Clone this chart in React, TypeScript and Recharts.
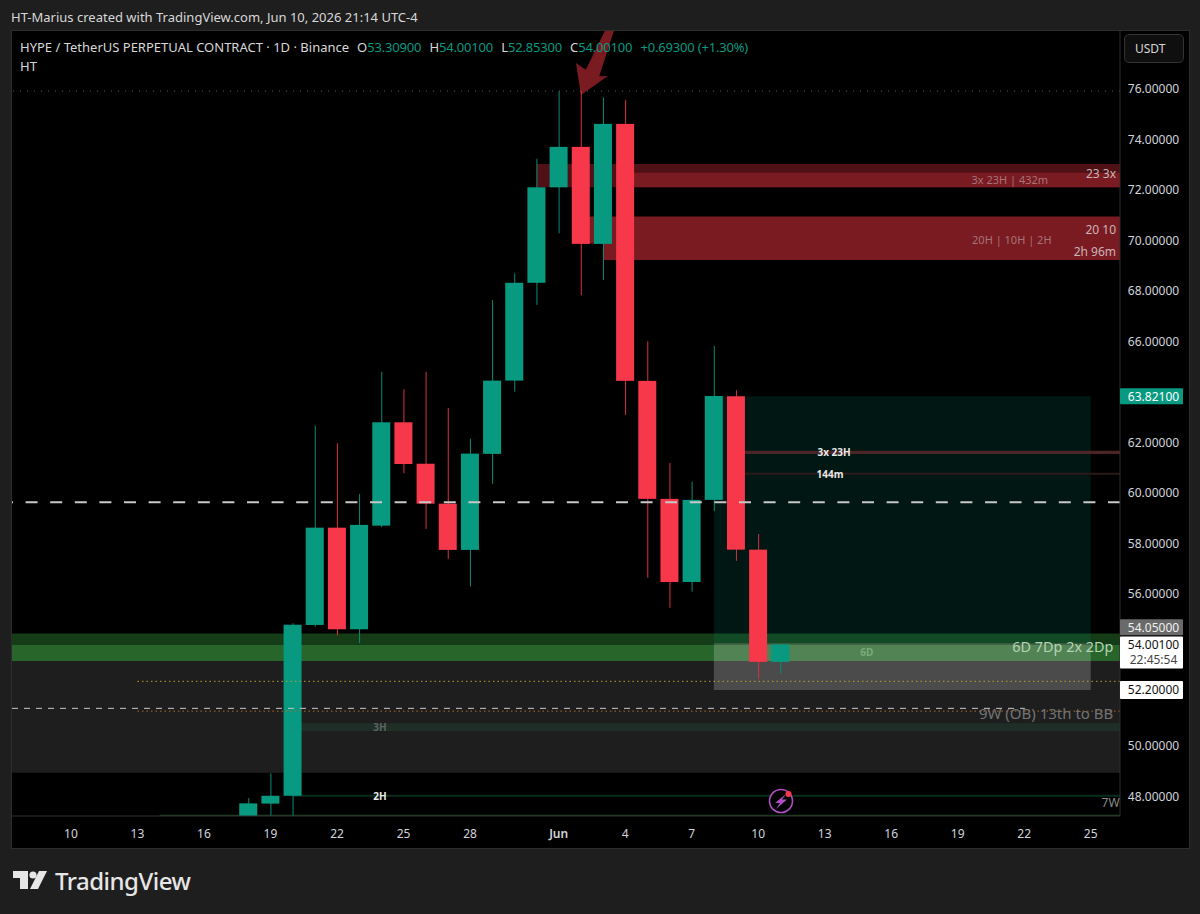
import {
    Bar,
    ComposedChart,
    ReferenceArea,
    ReferenceDot,
    ReferenceLine,
    XAxis,
    YAxis,
} from "recharts"

// day number counted from May 10
const days = [8, 9, 10, 11, 12, 13, 14, 15, 16, 17, 18, 19, 20, 21, 22, 23, 24, 25, 26, 27, 28, 29, 30, 31, 32]
const opens = [47.0, 47.7, 48.01, 54.77, 58.62, 54.6, 58.7, 62.79, 61.15, 59.57, 57.74, 61.54, 64.44, 68.31, 72.09, 73.69, 69.85, 74.6, 64.43, 59.76, 56.47, 59.72, 63.82, 57.75, 53.309]
const highs = [47.92, 48.9, 54.84, 62.66, 61.96, 59.95, 64.79, 64.1, 64.79, 63.36, 62.14, 67.63, 68.69, 73.22, 75.9, 75.9, 75.65, 75.55, 66.0, 61.18, 60.44, 65.81, 64.06, 58.37, 54.001]
const lows = [46.9, 47.0, 47.0, 54.7, 54.35, 54.05, 58.64, 60.77, 58.57, 57.39, 56.29, 60.36, 64.0, 67.44, 70.27, 67.82, 68.42, 63.08, 56.64, 55.45, 56.09, 59.28, 57.31, 52.62, 52.853]
const closes = [47.71, 48.01, 54.78, 58.62, 54.6, 58.73, 62.79, 61.14, 59.57, 57.74, 61.55, 64.44, 68.31, 72.09, 73.69, 69.85, 74.6, 64.43, 59.76, 56.47, 59.72, 63.83, 57.75, 53.31, 54.001]

const timeTicks = [0, 3, 6, 9, 12, 15, 18, 22, 25, 28, 31, 34, 37, 40, 43, 46]
const timeLabels = ["10", "13", "16", "19", "22", "25", "28", "Jun", "4", "7", "10", "13", "16", "19", "22", "25"]
const priceTicks = [76, 74, 72, 70, 68, 66, 63.821, 62, 60, 58, 56, 54.05, 54.001, 52.2, 50, 48]

const GREEN = "#089981"
const RED = "#f7374a"
const BAND_RED = "#7a1b22"
const DAY_MIN = -2.66
const DAY_MAX = 47.32
const PRICE_MIN = 47.21
const PRICE_MAX = 78.275

const candles = days.map((day, i) => ({
    day,
    up: closes[i] >= opens[i],
    wick: [lows[i], highs[i]],
    body: [Math.min(opens[i], closes[i]), Math.max(opens[i], closes[i])],
}))

const font = "'Noto Sans', sans-serif"

function CandleBody(props: any) {
    const { x, y, width, height, payload } = props
    return <rect x={x} y={y} width={width} height={height} fill={payload.up ? GREEN : RED} />
}

function CandleWick(props: any) {
    const { x, y, width, height, payload } = props
    return <rect x={x} y={y} width={width} height={height} fill={payload.up ? "#0b8a75" : "#d6303f"} />
}

function PriceTick(props: any) {
    const { x, y, payload } = props
    const value = payload.value
    const label = value.toFixed(5)
    const left = x - 8
    const textX = left + 33.5
    const text = (dy: number, fill: string, str = label) => (
        <text x={textX} y={y + dy} fill={fill} fontSize={12} fontFamily={font} textAnchor="middle" dominantBaseline="central">
            {str}
        </text>
    )
    if (value === 63.821) {
        return (
            <g>
                <rect x={left} y={y - 8} width={63} height={16} rx={1} fill={GREEN} />
                {text(0, "#fff")}
            </g>
        )
    }
    if (value === 54.05) {
        return (
            <g>
                <rect x={left} y={y - 24} width={63} height={16} rx={1} fill="#6a6a6a" />
                {text(-16, "#f0f0f0")}
            </g>
        )
    }
    if (value === 54.001) {
        return (
            <g>
                <rect x={left} y={y - 8} width={63} height={32} rx={1} fill="#fff" />
                {text(0.5, "#111")}
                {text(15.5, "#444", "22:45:54")}
            </g>
        )
    }
    if (value === 52.2) {
        return (
            <g>
                <rect x={left} y={y - 9} width={63} height={18} rx={1} fill="#fff" />
                {text(0, "#111")}
            </g>
        )
    }
    return text(0, "#d1d4dc")
}

function TimeTick(props: any) {
    const { x, y, payload } = props
    const label = timeLabels[timeTicks.indexOf(payload.value)]
    return (
        <text x={x} y={y + 9} fill="#d1d4dc" fontSize={12} fontFamily={font} textAnchor="middle" dominantBaseline="central" fontWeight={label === "Jun" ? 600 : 400}>
            {label}
        </text>
    )
}

function ArrowShape(props: any) {
    const { x, y, width: w, height: h } = props
    const corners = [
        [0.13, 1],
        [0, 0.5],
        [0.26, 0.605],
        [0.76, 0],
        [1, 0],
        [0.613, 0.708],
        [0.84, 0.703],
    ]
    return <polygon points={corners.map(([a, b]) => `${x + a * w},${y + b * h}`).join(" ")} fill={BAND_RED} />
}

// text pinned to a day/price through the chart's scales
function note(day: number, price: number, value: string, fill: string, size: number, anchor = "middle", weight = 400) {
    return (
        <ReferenceDot
            key={value}
            x={day}
            y={price}
            r={1}
            ifOverflow="visible"
            shape={(p: any) => (
                <text x={p.cx} y={p.cy} fill={fill} fontSize={size} fontWeight={weight} fontFamily={font} textAnchor={anchor as any} dominantBaseline="central">
                    {value}
                </text>
            )}
        />
    )
}

function band(x1: number, x2: number, y1: number, y2: number, fill: string) {
    return <ReferenceArea key={`${x1}-${y1}-${y2}`} x1={x1} x2={x2} y1={y1} y2={y2} fill={fill} fillOpacity={1} stroke="none" ifOverflow="hidden" />
}

const legendValue = { color: GREEN, letterSpacing: -0.18 }

export default function App() {
    return (
        <div style={{ position: "absolute", left: 0, top: 0, width: 1200, height: 914, background: "#1e1e1e", fontFamily: font, overflow: "hidden" }}>
            <div style={{ position: "absolute", left: 11, top: 30, width: 1177, height: 817, background: "#000", border: "1px solid #2e2e2e" }} />
            <div style={{ position: "absolute", left: 11, top: 8, fontSize: 13, color: "#d8d8d8", lineHeight: "18px", whiteSpace: "nowrap" }}>
                HT-Marius created with TradingView.com, Jun 10, 2026 21:14 UTC-4
            </div>
            <div style={{ position: "absolute", left: 0, top: 0 }}>
                <ComposedChart width={1200} height={914} data={candles} margin={{ top: 31, right: 12, bottom: 67, left: 12 }}>
                    <XAxis
                        dataKey="day"
                        type="number"
                        domain={[DAY_MIN, DAY_MAX]}
                        allowDataOverflow
                        ticks={timeTicks}
                        interval={0}
                        height={31}
                        tickLine={false}
                        axisLine={{ stroke: "#2e2e2e" }}
                        tick={TimeTick}
                    />
                    <XAxis xAxisId="wick" dataKey="day" type="number" domain={[DAY_MIN, DAY_MAX]} allowDataOverflow hide />
                    <YAxis
                        orientation="right"
                        type="number"
                        domain={[PRICE_MIN, PRICE_MAX]}
                        allowDataOverflow
                        ticks={priceTicks}
                        interval={0}
                        width={68}
                        tickLine={false}
                        axisLine={{ stroke: "#2e2e2e" }}
                        tick={PriceTick}
                    />

                    {band(DAY_MIN, DAY_MAX, 48.92, 53.34, "#1e1e1e")}
                    {band(DAY_MIN, DAY_MAX, 53.34, 54.43, "#143d17")}
                    {band(DAY_MIN, DAY_MAX, 53.34, 53.98, "#27652a")}
                    {band(10, DAY_MAX, 50.57, 50.88, "#1f2f28")}
                    {band(10, DAY_MAX, 47.97, 48.05, "#0a2e1c")}
                    {band(4, DAY_MAX, 47.21, 47.26, "#16451f")}

                    {band(21, DAY_MAX, 72.09, 73.01, "#4f1116")}
                    {band(25, DAY_MAX, 72.09, 72.67, BAND_RED)}
                    {band(23, DAY_MAX, 69.87, 70.93, BAND_RED)}
                    {band(24, DAY_MAX, 69.21, 69.9, BAND_RED)}

                    <ReferenceArea x1={29} x2={46} y1={54.05} y2={63.821} fill={GREEN} fillOpacity={0.15} stroke="none" />
                    <ReferenceArea x1={29} x2={46} y1={52.2} y2={54.05} fill="#fff" fillOpacity={0.2} stroke="none" />

                    {band(30, DAY_MAX, 61.54, 61.66, "#4b2426")}
                    {band(30, DAY_MAX, 60.71, 60.79, "#2a1a18")}

                    <ReferenceLine y={75.9} stroke="#5a5a5a" strokeDasharray="1 6" />
                    <ReferenceLine y={59.63} stroke="#c8c8c8" strokeWidth={2} strokeDasharray="12 12.6" />
                    <ReferenceLine
                        segment={[{ x: DAY_MIN, y: 51.47 }, { x: 43.03, y: 51.47 }]}
                        stroke="#c8c8c8"
                        strokeDasharray="6 6"
                    />
                    <ReferenceLine segment={[{ x: 3, y: 52.54 }, { x: DAY_MAX, y: 52.54 }]} stroke="#c0a030" strokeDasharray="1.5 3" />
                    <ReferenceLine segment={[{ x: 3, y: 51.36 }, { x: DAY_MAX, y: 51.36 }]} stroke="#b06a2c" strokeDasharray="1.5 3" />

                    <Bar xAxisId="wick" dataKey="wick" barSize={1} shape={CandleWick} isAnimationActive={false} />
                    <Bar dataKey="body" barSize={18} shape={CandleBody} isAnimationActive={false} />

                    <ReferenceArea x1={22.78} x2={24.49} y1={75.74} y2={PRICE_MAX} shape={ArrowShape} />

                    {note(47.14, 72.62, "23 3x", "#c9b5b7", 12, "end")}
                    {note(42.35, 72.38, "3x 23H | 432m", "#a87378", 11)}
                    {note(47.14, 70.4, "20 10", "#c9b5b7", 12, "end")}
                    {note(42.44, 70.04, "20H | 10H | 2H", "#a87378", 11)}
                    {note(47.14, 69.53, "2h 96m", "#c9b5b7", 12, "end")}
                    {note(34.42, 61.62, "3x 23H", "#e8e8e8", 10, "middle", 700)}
                    {note(34.24, 60.75, "144m", "#e8e8e8", 10, "middle", 700)}
                    {note(47.02, 53.9, "6D 7Dp 2x 2Dp", "#b5d3b5", 14.4, "end")}
                    {note(35.9, 53.7, "6D", "#78ab7a", 10, "middle", 700)}
                    {note(47.02, 51.29, "9W (OB) 13th to BB", "#737373", 15, "end")}
                    {note(13.94, 50.74, "3H", "#5e6460", 10, "middle", 700)}
                    {note(13.94, 48.0, "2H", "#e8e8e8", 10, "middle", 700)}
                    {note(47.3, 47.76, "7W", "#8a8a8a", 12, "end")}
                </ComposedChart>
            </div>
            <div style={{ position: "absolute", left: 20, top: 38, fontSize: 13, lineHeight: "18px", color: "#d8d8d8", whiteSpace: "nowrap" }}>
                HYPE / TetherUS PERPETUAL CONTRACT · 1D · Binance
                <span style={{ marginLeft: 8 }}>O</span><span style={legendValue}>53.30900</span>
                <span style={{ marginLeft: 8 }}>H</span><span style={legendValue}>54.00100</span>
                <span style={{ marginLeft: 8 }}>L</span><span style={legendValue}>52.85300</span>
                <span style={{ marginLeft: 8 }}>C</span><span style={legendValue}>54.00100</span>
                <span style={{ marginLeft: 8, ...legendValue }}>+0.69300 (+1.30%)</span>
            </div>
            <div style={{ position: "absolute", left: 20, top: 57, fontSize: 13, lineHeight: "18px", color: "#d8d8d8" }}>HT</div>
            <div style={{ position: "absolute", left: 1124, top: 34, width: 60, height: 29, boxSizing: "border-box", background: "#0f0f0f", border: "1px solid #333", borderRadius: 5, color: "#d8d8d8", fontSize: 12, lineHeight: "27px", paddingLeft: 10 }}>
                USDT
            </div>
            <svg width={30} height={30} style={{ position: "absolute", left: 766, top: 786 }}>
                <circle cx={15} cy={15} r={11.5} fill="#000" stroke="#b04fc6" strokeWidth={1.6} />
                <polygon points="20,8 9,17 14,17 10,23 21,13.5 16,13.5" fill="#b04fc6" />
                <circle cx={22.5} cy={8} r={3} fill="#f7374a" />
            </svg>
            <svg width={36} height={20} style={{ position: "absolute", left: 13, top: 870 }}>
                <polygon points="0,1 15,1 15,19 7,19 7,8 0,8" fill="#e6e6e6" />
                <circle cx={20} cy={5} r={3.6} fill="#e6e6e6" />
                <polygon points="26,1 34,1 25,19 17,19" fill="#e6e6e6" />
            </svg>
            <div style={{ position: "absolute", left: 55, top: 866, fontSize: 24, fontWeight: 500, lineHeight: "30px", color: "#e6e6e6", letterSpacing: -0.5 }}>
                TradingView
            </div>
        </div>
    )
}
